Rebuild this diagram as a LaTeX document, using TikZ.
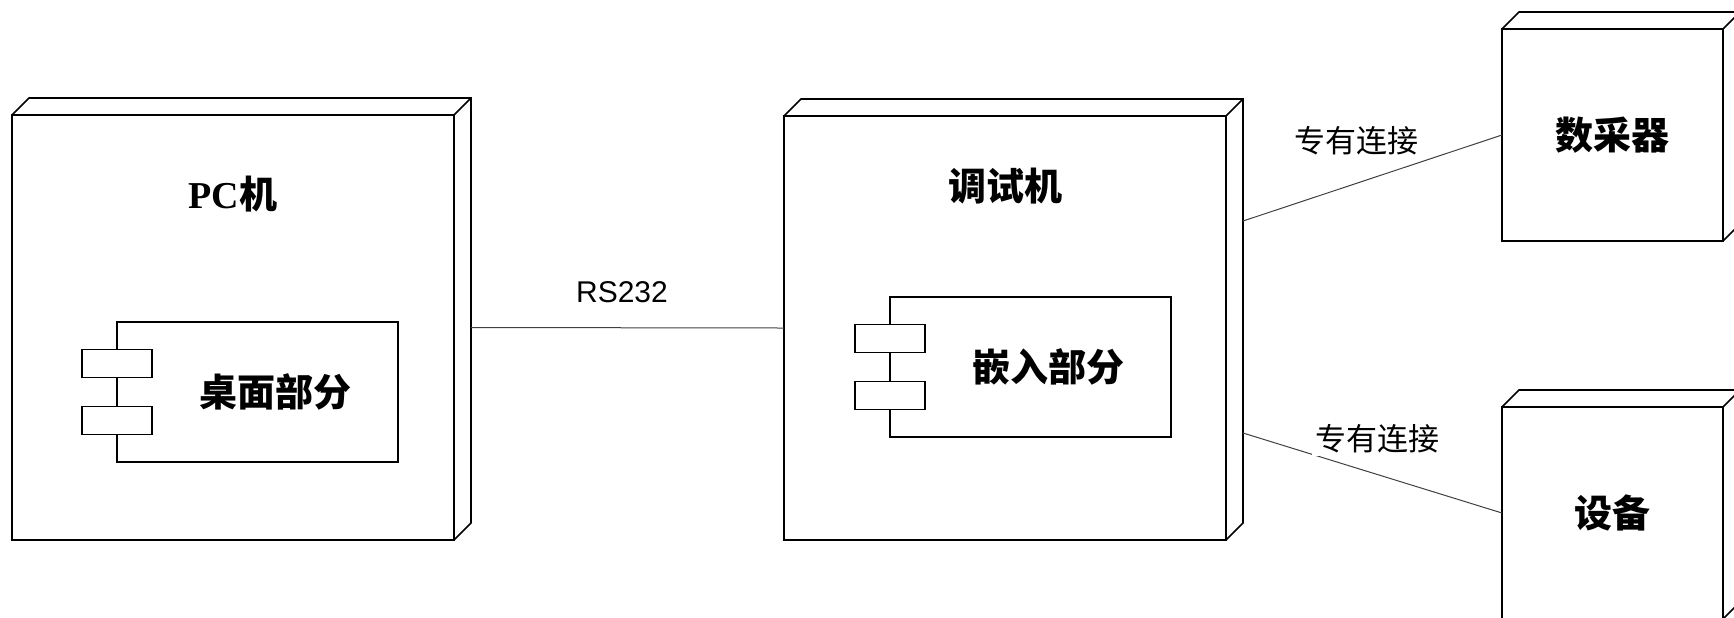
\documentclass[tikz,border=0pt]{standalone}
\usepackage{fontspec}
\setmainfont{Liberation Sans}
\newfontfamily\cjk{Noto Sans CJK SC}
\newfontfamily\timesb{Liberation Serif}
\tikzset{
  nodebox/.style={draw, line width=0.8pt, fill=white, inner sep=0pt, outer sep=0pt},
  compbox/.style={draw, line width=0.6pt, fill=white, outer sep=0pt, minimum width=140.5pt, minimum height=70pt},
  tabbox/.style={draw, line width=0.6pt, fill=white, outer sep=0pt, minimum width=35pt, minimum height=14pt},
  link/.style={line width=0.5pt, black!75},
  linklabel/.style={fill=white, inner sep=1.5pt, font=\cjk\fontsize{15.5}{18}\selectfont},
  bigtext/.style={font=\cjk\bfseries\fontsize{19}{22}\selectfont},
}
% top and side faces of a node box
\newcommand{\nodedepth}[1]{%
  \draw[line width=0.8pt] (#1.north west) -- ++(17,-17) -- ([shift={(17,-17)}]#1.north east)
    -- ([shift={(17,-17)}]#1.south east) -- (#1.south east);
  \draw[line width=0.8pt] (#1.north east) -- ++(17,-17);
}
\begin{document}
\begin{tikzpicture}[x=0.5pt, y=-0.5pt]
\useasboundingbox (0,0) rectangle (1734,617);
\clip (0,0) rectangle (1734,617);
\node [nodebox, minimum width=221pt, minimum height=212.5pt] (pc) at (233,327.5) {};
\node [nodebox, minimum width=221pt, minimum height=212pt] (dbg) at (1005,328) {};
\node [nodebox, minimum width=110.5pt, minimum height=106pt, bigtext] (daq) at (1612.5,135) {数采器};
\node [nodebox, minimum width=110.5pt, minimum height=106pt, bigtext] (dev) at (1612.5,513) {设备};
\nodedepth{pc}
\nodedepth{dbg}
\nodedepth{daq}
\nodedepth{dev}
\node [bigtext] (pc-name) at (233,194) {{\timesb PC}机};
\node [bigtext] (dbg-name) at (1005,186) {调试机};

\node [compbox] (desk) at (257.5,392) {};
\node [tabbox] (desk-tab1) at ([shift={(0,-28.5)}]desk.west) {};
\node [tabbox] (desk-tab2) at ([shift={(0,28.5)}]desk.west) {};
\node [bigtext] (desk-name) at (275.5,392) {桌面部分};
\node [compbox] (emb) at (1030.5,367) {};
\node [tabbox] (emb-tab1) at ([shift={(0,-28.5)}]emb.west) {};
\node [tabbox] (emb-tab2) at ([shift={(0,28.5)}]emb.west) {};
\node [bigtext] (emb-name) at (1048.5,367) {嵌入部分};

\coordinate (pc-side) at ([shift={(17,0)}]pc.east);
\coordinate (dbg-side1) at (1243,221);
\coordinate (dbg-side2) at (1243,433);
\draw [link] (pc-side) -- (dbg.west);
\draw [link] (dbg-side1) -- (daq.west);
\draw [link] (dbg-side2) -- (dev.west);
\node [font=\fontsize{15}{18}\selectfont] (rs-label) at (622,292) {RS232};
\node [linklabel] (daq-label) at (1356,141) {专有连接};
\node [linklabel] (dev-label) at (1377,439) {专有连接};
\end{tikzpicture}
\end{document}
